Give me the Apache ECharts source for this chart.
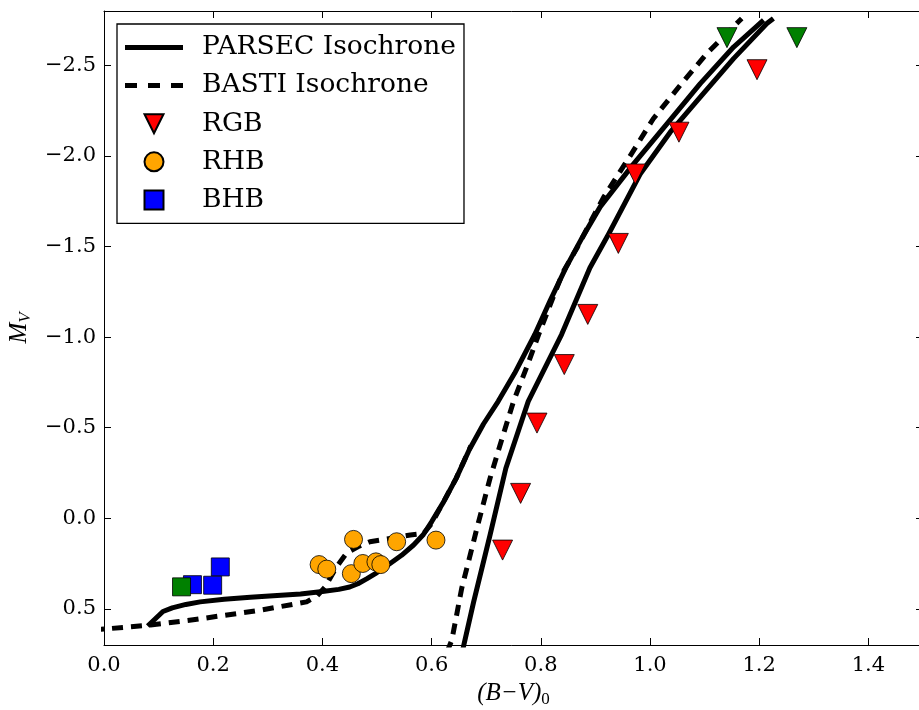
<!DOCTYPE html>
<html>
<head>
<meta charset="utf-8">
<script src="https://cdn.jsdelivr.net/npm/echarts@6/dist/echarts.min.js"></script>
<style>
  html, body { margin: 0; padding: 0; background: #fff; }
  #chart { width: 919px; height: 710px; }
</style>
</head>
<body>
<div id="chart"></div>
<script>
// Colour–magnitude diagram: (B−V)0 against M_V with two isochrone sets and stars.

// PARSEC isochrone: horizontal branch / AGB track and the red giant branch
const parsecHB = [
  [0.080, 0.595], [0.108, 0.515], [0.125, 0.495], [0.150, 0.476], [0.176, 0.462],
  [0.220, 0.448], [0.268, 0.437], [0.310, 0.428], [0.360, 0.418], [0.400, 0.405],
  [0.430, 0.393], [0.450, 0.380], [0.465, 0.362], [0.481, 0.335], [0.500, 0.300],
  [0.524, 0.250], [0.545, 0.205], [0.567, 0.148], [0.585, 0.090], [0.600, 0.020],
  [0.622, -0.090], [0.645, -0.220], [0.669, -0.378], [0.695, -0.520], [0.722, -0.645],
  [0.752, -0.800], [0.789, -1.014], [0.817, -1.200], [0.846, -1.383], [0.876, -1.550],
  [0.909, -1.720], [0.970, -1.956], [1.031, -2.177], [1.092, -2.399], [1.153, -2.601],
  [1.208, -2.749]
];
const parsecRGB = [
  [0.656, 0.740], [0.677, 0.462], [0.707, 0.093], [0.736, -0.276], [0.777, -0.645],
  [0.838, -1.014], [0.890, -1.383], [0.924, -1.568], [0.982, -1.900], [1.037, -2.131],
  [1.092, -2.325], [1.153, -2.537], [1.214, -2.731], [1.226, -2.759]
];

// BASTI isochrone: horizontal branch and the red giant branch
const bastiHB = [
  [-0.02, 0.615], [0.000, 0.612], [0.085, 0.590], [0.170, 0.558], [0.286, 0.508],
  [0.371, 0.462], [0.390, 0.430], [0.405, 0.379], [0.426, 0.268], [0.445, 0.190],
  [0.465, 0.158], [0.487, 0.130], [0.524, 0.112], [0.561, 0.093], [0.585, 0.085],
  [0.600, 0.030], [0.620, -0.080], [0.645, -0.220], [0.672, -0.400]
];
const bastiRGB = [
  [0.628, 0.740], [0.637, 0.674], [0.655, 0.389], [0.683, 0.056], [0.707, -0.220],
  [0.725, -0.400], [0.750, -0.645], [0.775, -0.840], [0.796, -1.014], [0.820, -1.200],
  [0.841, -1.360], [0.866, -1.490], [0.890, -1.630], [0.915, -1.771], [0.964, -2.002],
  [1.006, -2.205], [1.055, -2.389], [1.104, -2.565], [1.168, -2.759]
];

// Stars
const rgbStars = [
  [0.730, 0.176], [0.763, -0.137], [0.793, -0.525], [0.843, -0.848], [0.886, -1.125],
  [0.942, -1.517], [0.973, -1.900], [1.053, -2.131], [1.196, -2.476]
];
const rgbStarsGreen = [[1.141, -2.653], [1.269, -2.653]];
const rhbStars = [
  [0.457, 0.117], [0.536, 0.130], [0.608, 0.121], [0.394, 0.256], [0.408, 0.281],
  [0.453, 0.306], [0.474, 0.250], [0.498, 0.241], [0.507, 0.256]
];
const bhbStars = [[0.213, 0.269], [0.162, 0.367], [0.199, 0.370]];
const bhbStarsGreen = [[0.142, 0.379]];

// Axis ranges and tick positions
const xRange = [0, 1.5];
const yRange = [-2.8, 0.7];
const xTicks = [0.0, 0.2, 0.4, 0.6, 0.8, 1.0, 1.2, 1.4];
const yTicks = [-2.5, -2.0, -1.5, -1.0, -0.5, 0.0, 0.5];

const SERIF = "'DejaVu Serif', serif";
const MATH = "'Liberation Serif', 'DejaVu Serif', serif";

// Legend key shapes (aspect kept, fitted into the legend item box)
const ICON_SOLID = 'path://M0,0h58v5h-58z';
const ICON_DASHED = 'path://M0,0h12v5h-12z M23,0h12v5h-12z M46,0h12v5h-12z';
const ICON_TRI_DOWN = 'path://M0,0L20,0L10,20Z';
const ICON_CIRCLE = 'path://M10,1A9,9 0 1 1 10,19A9,9 0 1 1 10,1Z';
const ICON_SQUARE = 'path://M1,1h18v18h-18z';

function fmt(v) {
  const s = Math.abs(v).toFixed(1);
  return (v < 0 ? '\u2212' : '') + s;
}

const tickStyle = { show: true, inside: true, length: 7, lineStyle: { color: '#000', width: 1 } };
const lineAxis = { show: true, onZero: false, lineStyle: { color: '#000', width: 1 } };

const chart = echarts.init(document.getElementById('chart'), null, { renderer: 'canvas' });

const lineSeries = (name, data, type) => ({
  type: 'line', name, data, symbol: 'none', showSymbol: false, clip: true,
  xAxisIndex: 0, yAxisIndex: 0, z: 2, animation: false,
  lineStyle: { color: '#000', width: 5, type, cap: 'butt', join: 'round' },
  itemStyle: { color: '#000' },
  emphasis: { disabled: true }
});

const scatterSeries = (name, data, symbol, size, color, rotate) => ({
  type: 'scatter', name, data, symbol, symbolSize: size, symbolRotate: rotate || 0,
  xAxisIndex: 0, yAxisIndex: 0, z: 3, animation: false,
  itemStyle: { color, borderColor: '#000', borderWidth: 0.8, opacity: 1 },
  emphasis: { disabled: true }
});

chart.setOption({
  backgroundColor: '#fff',
  animation: false,
  grid: {
    left: 104, top: 11, width: 819, height: 634,
    containLabel: false, outerBoundsMode: 'none'
  },
  xAxis: [
    {
      type: 'value', min: xRange[0], max: xRange[1], position: 'bottom',
      axisLine: lineAxis, splitLine: { show: false },
      axisTick: Object.assign({ customValues: xTicks }, tickStyle),
      axisLabel: {
        customValues: xTicks, margin: 10, color: '#000', fontFamily: SERIF, fontSize: 21,
        formatter: fmt
      },
      name: '{i|(B\u2212V)}{s|0}', nameLocation: 'middle', nameGap: 32,
      nameTextStyle: {
        rich: {
          i: { fontFamily: MATH, fontStyle: 'italic', fontSize: 25, color: '#000' },
          s: { fontFamily: MATH, fontSize: 17, color: '#000', padding: [13, 0, 0, 0] }
        }
      }
    },
    {
      type: 'value', min: xRange[0], max: xRange[1], position: 'top',
      axisLine: lineAxis, splitLine: { show: false },
      axisTick: Object.assign({ customValues: xTicks }, tickStyle),
      axisLabel: { show: false }
    }
  ],
  yAxis: [
    {
      type: 'value', min: yRange[0], max: yRange[1], inverse: true, position: 'left',
      axisLine: lineAxis, splitLine: { show: false },
      axisTick: Object.assign({ customValues: yTicks }, tickStyle),
      axisLabel: {
        customValues: yTicks, margin: 8, color: '#000', fontFamily: SERIF, fontSize: 21,
        formatter: fmt
      },
      name: '{i|M}{s|V}', nameLocation: 'middle', nameGap: 67, nameRotate: 90,
      nameTextStyle: {
        rich: {
          i: { fontFamily: MATH, fontStyle: 'italic', fontSize: 25, color: '#000' },
          s: { fontFamily: MATH, fontStyle: 'italic', fontSize: 17, color: '#000', padding: [13, 0, 0, 0] }
        }
      }
    },
    {
      type: 'value', min: yRange[0], max: yRange[1], inverse: true, position: 'right',
      axisLine: lineAxis, splitLine: { show: false },
      axisTick: Object.assign({ customValues: yTicks }, tickStyle),
      axisLabel: { show: false }
    }
  ],
  legend: {
    orient: 'vertical', left: 117, top: 24,
    padding: [10, 8, 10, 8], itemGap: 11.1, itemWidth: 58, itemHeight: 19,
    symbolKeepAspect: true,
    borderColor: '#000', borderWidth: 1.3, backgroundColor: '#fff',
    selectedMode: false,
    textStyle: { fontFamily: SERIF, fontSize: 26.5, lineHeight: 26, color: '#000', padding: [0, 0, 0, 14] },
    data: [
      { name: 'PARSEC Isochrone', icon: ICON_SOLID, itemStyle: { color: '#000', borderWidth: 0 } },
      { name: 'BASTI Isochrone', icon: ICON_DASHED, itemStyle: { color: '#000', borderWidth: 0 } },
      { name: 'RGB', icon: ICON_TRI_DOWN },
      { name: 'RHB', icon: ICON_CIRCLE },
      { name: 'BHB', icon: ICON_SQUARE }
    ]
  },
  series: [
    lineSeries('PARSEC Isochrone', parsecHB, 'solid'),
    lineSeries('PARSEC Isochrone', parsecRGB, 'solid'),
    lineSeries('BASTI Isochrone', bastiHB, [11, 8]),
    lineSeries('BASTI Isochrone', bastiRGB, [11, 8]),
    scatterSeries('RGB', rgbStars, 'triangle', 20, '#ff0000', 180),
    scatterSeries('RHB', rhbStars, 'circle', 18, '#ffa500'),
    scatterSeries('BHB', bhbStars, 'rect', 18, '#0000ff'),
    scatterSeries('RGB (green)', rgbStarsGreen, 'triangle', 20, '#008000', 180),
    scatterSeries('BHB (green)', bhbStarsGreen, 'rect', 18, '#008000')
  ]
});
</script>
</body>
</html>
